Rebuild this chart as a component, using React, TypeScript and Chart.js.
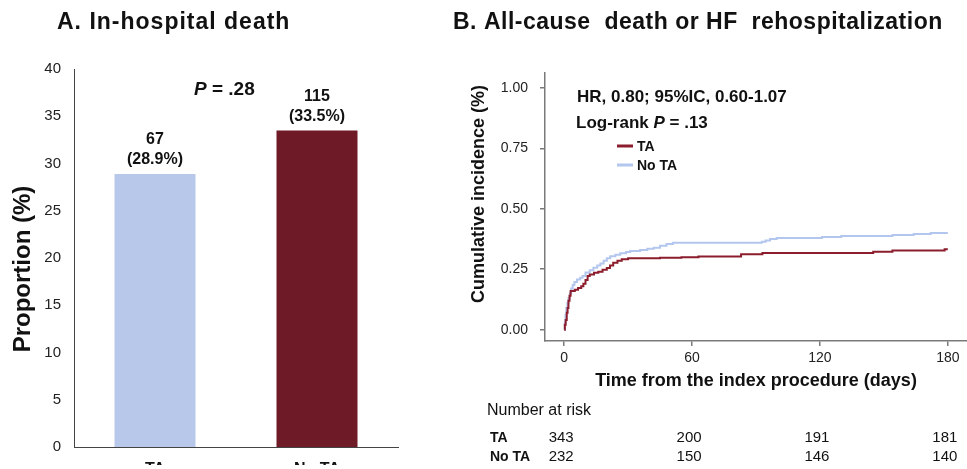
import React, { useEffect, useRef } from 'react';
import { Chart, registerables } from 'chart.js';

Chart.register(...registerables);

const FONT = '"Liberation Sans", Arial, Helvetica, sans-serif';

// ---- Panel A data ----
const barCategories = ['TA', 'No TA'];
const barValues = [28.9, 33.5];
const barCounts = ['67', '115'];
const barPercentLabels = ['(28.9%)', '(33.5%)'];
const barColors = ['#B7C8EA', '#6F1B27'];
const barTicks = [0, 5, 10, 15, 20, 25, 30, 35, 40];

// ---- Panel B data ----
const kmTicksX = [0, 60, 120, 180];
const kmTicksY = [0, 0.25, 0.5, 0.75, 1.0];
const taDays = [0, 0.3, 0.7, 1.2, 1.6, 2.0, 2.5, 3.0, 5.0, 6.5, 8.0, 9.0, 10.0, 11.0, 12.0, 14.0, 16.0, 18.0, 20.0, 21.5, 23.0, 25.0, 27.0, 30.0, 45.0, 55.0, 63.0, 83.0, 93.0, 145.0, 154.0, 178.5, 180];
const taIncidence = [0, 0.02, 0.04, 0.07, 0.09, 0.12, 0.14, 0.16, 0.165, 0.172, 0.18, 0.19, 0.205, 0.222, 0.228, 0.235, 0.24, 0.248, 0.255, 0.265, 0.277, 0.285, 0.291, 0.295, 0.297, 0.3, 0.303, 0.312, 0.317, 0.322, 0.327, 0.333, 0.333];
const noTaDays = [0, 0.3, 0.6, 1.0, 1.5, 2.0, 2.7, 3.3, 4.0, 4.8, 6.0, 7.5, 8.6, 10.0, 12.0, 13.7, 15.5, 17.0, 18.5, 20.0, 21.6, 24.0, 26.3, 29.0, 31.0, 35.6, 39.0, 42.0, 45.0, 48.0, 51.0, 92.7, 94.5, 96.6, 99.7, 121.0, 130.0, 154.0, 164.0, 172.0, 180];
const noTaIncidence = [0, 0.03, 0.06, 0.09, 0.11, 0.13, 0.15, 0.17, 0.185, 0.197, 0.208, 0.215, 0.222, 0.236, 0.246, 0.256, 0.265, 0.274, 0.285, 0.295, 0.304, 0.31, 0.316, 0.321, 0.325, 0.33, 0.335, 0.339, 0.347, 0.354, 0.36, 0.364, 0.369, 0.375, 0.379, 0.383, 0.388, 0.392, 0.396, 0.4, 0.4];
const riskGroups = ['TA', 'No TA'];
const riskTA = [343, 200, 191, 181];
const riskNoTA = [232, 150, 146, 140];

const taColor = '#8C1D2D';
const noTaColor = '#B3C6EE';

type Run = { t: string; f: string };
function drawRuns(ctx: CanvasRenderingContext2D, runs: Run[], x: number, y: number) {
  let cx = x;
  for (const r of runs) {
    ctx.font = r.f;
    ctx.fillText(r.t, cx, y);
    cx += ctx.measureText(r.t).width;
  }
}

const panelAPlugin = {
  id: 'panelA',
  afterDraw(chart: any) {
    const ctx: CanvasRenderingContext2D = chart.ctx;
    const area = chart.chartArea;
    ctx.save();
    ctx.fillStyle = '#111';
    // title
    ctx.textAlign = 'left';
    ctx.textBaseline = 'alphabetic';
    ctx.font = `bold 23px ${FONT}`;
    (ctx as any).letterSpacing = '1px';
    ctx.fillText('A. In-hospital death', 57, 29);
    (ctx as any).letterSpacing = '0px';
    // y title
    ctx.save();
    ctx.translate(30, 269);
    ctx.rotate(-Math.PI / 2);
    ctx.textAlign = 'center';
    ctx.font = `bold 24px ${FONT}`;
    ctx.fillText('Proportion (%)', 0, 0);
    ctx.restore();
    // bar labels
    const meta = chart.getDatasetMeta(0);
    ctx.textAlign = 'center';
    ctx.textBaseline = 'middle';
    ctx.font = `bold 16px ${FONT}`;
    meta.data.forEach((el: any, i: number) => {
      ctx.fillText(barCounts[i], el.x, el.y - 34);
      ctx.fillText(barPercentLabels[i], el.x, el.y - 14);
    });
    // P value
    ctx.textAlign = 'left';
    drawRuns(ctx, [
      { t: 'P', f: `italic bold 19px ${FONT}` },
      { t: ' = .28', f: `bold 19px ${FONT}` },
    ], area.left + 120, area.top + 21);
    ctx.restore();
  },
};

const panelBPlugin = {
  id: 'panelB',
  afterDraw(chart: any) {
    const ctx: CanvasRenderingContext2D = chart.ctx;
    const xs = chart.scales.x;
    ctx.save();
    ctx.fillStyle = '#111';
    // title
    ctx.textAlign = 'left';
    ctx.textBaseline = 'alphabetic';
    ctx.font = `bold 23px ${FONT}`;
    (ctx as any).letterSpacing = '0.5px';
    ctx.fillText('B. All-cause  death or HF  rehospitalization', 13, 29);
    (ctx as any).letterSpacing = '0px';
    // y title
    ctx.save();
    ctx.translate(44, 194);
    ctx.rotate(-Math.PI / 2);
    ctx.textAlign = 'center';
    ctx.font = `bold 18px ${FONT}`;
    ctx.fillText('Cumulative incidence (%)', 0, 0);
    ctx.restore();
    // x title
    ctx.textAlign = 'center';
    ctx.textBaseline = 'middle';
    ctx.font = `bold 18px ${FONT}`;
    ctx.fillText('Time from the index procedure (days)', xs.getPixelForValue(90), 381);
    // stats
    ctx.textAlign = 'left';
    ctx.font = `bold 17px ${FONT}`;
    ctx.fillText('HR, 0.80; 95%IC, 0.60-1.07', 137, 97);
    drawRuns(ctx, [
      { t: 'Log-rank ', f: `bold 17px ${FONT}` },
      { t: 'P', f: `italic bold 17px ${FONT}` },
      { t: ' = .13', f: `bold 17px ${FONT}` },
    ], 136, 123);
    // legend
    const legend = [
      { label: 'TA', color: taColor, y: 146 },
      { label: 'No TA', color: noTaColor, y: 165 },
    ];
    legend.forEach((l) => {
      ctx.strokeStyle = l.color;
      ctx.lineWidth = 3;
      ctx.beginPath();
      ctx.moveTo(177, l.y);
      ctx.lineTo(193, l.y);
      ctx.stroke();
      ctx.fillStyle = '#111';
      ctx.font = `bold 14px ${FONT}`;
      ctx.fillText(l.label, 197, l.y + 1);
    });
    // number at risk
    ctx.font = `16px ${FONT}`;
    ctx.fillText('Number at risk', 47, 411);
    const rows = [riskTA, riskNoTA];
    const rowY = [438, 457];
    rows.forEach((row, r) => {
      ctx.textAlign = 'left';
      ctx.font = `bold 14px ${FONT}`;
      ctx.fillText(riskGroups[r], 50, rowY[r]);
      ctx.textAlign = 'center';
      ctx.font = `15px ${FONT}`;
      row.forEach((v, i) => {
        ctx.fillText(String(v), xs.getPixelForValue(kmTicksX[i]) - 3, rowY[r]);
      });
    });
    ctx.restore();
  },
};

function PanelA() {
  const ref = useRef<HTMLCanvasElement>(null);
  useEffect(() => {
    const chart = new Chart(ref.current!, {
      type: 'bar',
      data: {
        labels: barCategories,
        datasets: [{
          data: barValues,
          backgroundColor: barColors,
          borderWidth: 0,
          barPercentage: 0.5,
          categoryPercentage: 1.0,
        }],
      },
      options: {
        responsive: false,
        animation: false,
        layout: { padding: { top: 69, right: 22, left: 0, bottom: 0 } },
        plugins: { legend: { display: false }, tooltip: { enabled: false }, title: { display: false } },
        scales: {
          x: {
            grid: { display: false, drawTicks: false, tickLength: 0 },
            border: { display: true, color: '#444', width: 1 },
            ticks: { color: '#111', font: { family: FONT, size: 16, weight: 'bold' }, padding: 13 },
            afterFit: (s: any) => { s.height = 18; },
          },
          y: {
            min: 0,
            max: 40,
            grid: { display: false, drawTicks: false, tickLength: 0 },
            border: { display: true, color: '#444', width: 1 },
            ticks: { color: '#222', font: { family: FONT, size: 15 }, padding: 13 },
            afterBuildTicks: (s: any) => { s.ticks = barTicks.map((v) => ({ value: v })); },
            afterFit: (s: any) => { s.width = 74; },
          },
        },
      },
      plugins: [panelAPlugin],
    } as any);
    return () => chart.destroy();
  }, []);
  return <canvas ref={ref} width={420} height={469} style={{ display: 'block' }} />;
}

function PanelB() {
  const ref = useRef<HTMLCanvasElement>(null);
  useEffect(() => {
    const taData = taDays.map((d, i) => ({ x: d, y: taIncidence[i] }));
    const noTaData = noTaDays.map((d, i) => ({ x: d, y: noTaIncidence[i] }));
    const chart = new Chart(ref.current!, {
      type: 'line',
      data: {
        datasets: [
          { label: 'TA', data: taData, borderColor: taColor, borderWidth: 2, pointRadius: 0, stepped: true, fill: false },
          { label: 'No TA', data: noTaData, borderColor: noTaColor, borderWidth: 2, pointRadius: 0, stepped: true, fill: false },
        ],
      },
      options: {
        responsive: false,
        animation: false,
        layout: { padding: { top: 73, right: 0, left: 0, bottom: 0 } },
        plugins: { legend: { display: false }, tooltip: { enabled: false }, title: { display: false } },
        scales: {
          x: {
            type: 'linear',
            min: -9,
            max: 189,
            grid: { display: true, drawOnChartArea: false, drawTicks: true, tickLength: 5, color: '#7a7a7a', lineWidth: 1.5 },
            border: { display: true, color: '#7a7a7a', width: 1.5 },
            ticks: { color: '#222', font: { family: FONT, size: 14 }, padding: 4, maxRotation: 0 },
            afterBuildTicks: (s: any) => { s.ticks = kmTicksX.map((v) => ({ value: v })); },
            afterFit: (s: any) => { s.height = 128; },
          },
          y: {
            min: -0.047,
            max: 1.062,
            grid: { display: true, drawOnChartArea: false, drawTicks: true, tickLength: 5, color: '#7a7a7a', lineWidth: 1.5 },
            border: { display: true, color: '#7a7a7a', width: 1.5 },
            ticks: { color: '#222', font: { family: FONT, size: 14 }, padding: 12, callback: (v: any) => Number(v).toFixed(2) },
            afterBuildTicks: (s: any) => { s.ticks = kmTicksY.map((v) => ({ value: v })); },
            afterFit: (s: any) => { s.width = 105; },
          },
        },
      },
      plugins: [panelBPlugin],
    } as any);
    return () => chart.destroy();
  }, []);
  return <canvas ref={ref} width={527} height={469} style={{ display: 'block' }} />;
}

export default function App() {
  return (
    <div style={{ position: 'absolute', left: 0, top: 0, width: 967, height: 469, background: '#fff', overflow: 'hidden' }}>
      <div style={{ position: 'absolute', left: 0, top: 0 }}><PanelA /></div>
      <div style={{ position: 'absolute', left: 440, top: 0 }}><PanelB /></div>
    </div>
  );
}
